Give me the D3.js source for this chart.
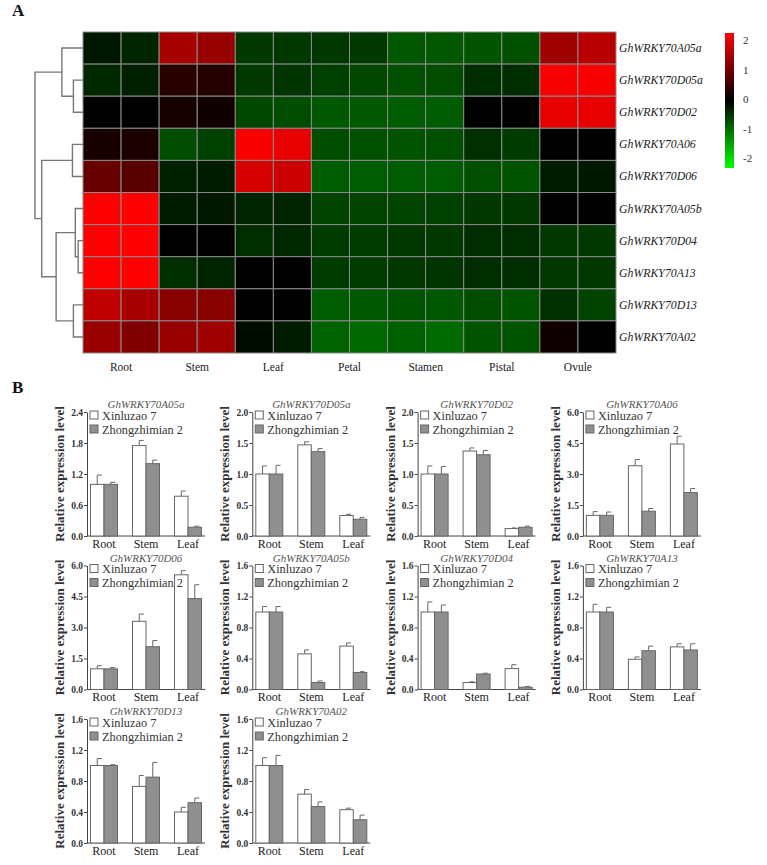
<!DOCTYPE html>
<html><head><meta charset="utf-8">
<script src="https://cdn.jsdelivr.net/npm/d3@7"></script>
<style>
body{margin:0;background:#fff;}
svg{display:block;}
</style></head>
<body>
<svg id="chart" width="767" height="865"></svg>
<script>
// ---------------- DATA ----------------
const tissues = ["Root","Stem","Leaf","Petal","Stamen","Pistal","Ovule"];
const replicates = ["r1","r2"];
const genes = ["GhWRKY70A05a","GhWRKY70D05a","GhWRKY70D02","GhWRKY70A06","GhWRKY70D06",
               "GhWRKY70A05b","GhWRKY70D04","GhWRKY70A13","GhWRKY70D13","GhWRKY70A02"];
// heatmap values (z-score), 14 columns: tissue x replicate
const heatValues = [
  [-0.19,-0.28, 1.32, 1.19,-0.44,-0.44,-0.44,-0.44,-0.69,-0.69,-0.66,-0.63, 1.25, 1.44],
  [-0.31,-0.25, 0.31, 0.28,-0.44,-0.41,-0.50,-0.56,-0.63,-0.60,-0.35,-0.35, 1.95, 1.95],
  [ 0.00, 0.00, 0.19, 0.13,-0.56,-0.60,-0.69,-0.69,-0.72,-0.72, 0.00, 0.00, 1.82, 1.82],
  [ 0.19, 0.22,-0.60,-0.50, 1.95, 1.82,-0.60,-0.63,-0.66,-0.63,-0.38,-0.47, 0.00, 0.00],
  [ 0.82, 0.69,-0.25,-0.22, 1.69, 1.60,-0.72,-0.72,-0.72,-0.72,-0.63,-0.66,-0.22,-0.19],
  [ 2.00, 2.00,-0.22,-0.19,-0.28,-0.28,-0.53,-0.53,-0.53,-0.50,-0.44,-0.44, 0.00, 0.00],
  [ 2.00, 2.00, 0.00, 0.00,-0.35,-0.31,-0.47,-0.47,-0.44,-0.44,-0.35,-0.35,-0.44,-0.44],
  [ 2.00, 2.00,-0.35,-0.28, 0.00, 0.00,-0.47,-0.47,-0.44,-0.41,-0.35,-0.35,-0.44,-0.44],
  [ 1.50, 1.32, 1.07, 1.07, 0.00, 0.00,-0.72,-0.69,-0.66,-0.69,-0.60,-0.66,-0.38,-0.53],
  [ 1.19, 1.00, 1.19, 1.25,-0.09,-0.22,-0.78,-0.82,-0.75,-0.85,-0.66,-0.66, 0.13, 0.00]
];
const colorTicks = [2,1,0,-1,-2];
// dendrogram: leaves are gene row indices, h = merge height
const dendroTree = {h:5.0, c:[
  {h:2.2, c:[0, {h:1.0, c:[1,2]}]},
  {h:4.3, c:[
    {h:1.1, c:[3,4]},
    {h:2.8, c:[
      {h:0.8, c:[5, {h:0.5, c:[6,7]}]},
      {h:1.0, c:[8,9]}
    ]}
  ]}
]};

// panel B
const barGenes = ["GhWRKY70A05a","GhWRKY70D05a","GhWRKY70D02","GhWRKY70A06","GhWRKY70D06",
                  "GhWRKY70A05b","GhWRKY70D04","GhWRKY70A13","GhWRKY70D13","GhWRKY70A02"];
const organs = ["Root","Stem","Leaf"];
const cultivars = ["Xinluzao 7","Zhongzhimian 2"];
const xinluzaoMean = [[1.0,1.75,0.77],[1.0,1.47,0.33],[1.0,1.37,0.12],[1.0,3.4,4.45],[1.0,3.3,5.55],
                      [1.0,0.46,0.56],[1.0,0.09,0.27],[1.0,0.39,0.55],[1.0,0.73,0.40],[1.0,0.63,0.43]];
const xinluzaoErr  = [[0.18,0.10,0.10],[0.13,0.05,0.02],[0.13,0.05,0.01],[0.18,0.30,0.38],[0.15,0.35,0.20],
                      [0.07,0.05,0.04],[0.13,0.01,0.05],[0.10,0.03,0.04],[0.09,0.14,0.06],[0.10,0.06,0.02]];
const zhongMean    = [[1.0,1.40,0.17],[1.0,1.36,0.27],[1.0,1.31,0.14],[1.0,1.2,2.1],[1.0,2.07,4.4],
                      [1.0,0.09,0.22],[1.0,0.20,0.03],[1.0,0.50,0.51],[1.0,0.85,0.52],[1.0,0.47,0.30]];
const zhongErr     = [[0.04,0.07,0.02],[0.14,0.05,0.03],[0.12,0.07,0.02],[0.16,0.13,0.2],[0.06,0.3,0.67],
                      [0.07,0.02,0.01],[0.09,0.01,0.01],[0.06,0.06,0.08],[0.01,0.19,0.06],[0.13,0.06,0.06]];
const yTicks = [[0,0.6,1.2,1.8,2.4],[0,0.5,1.0,1.5,2.0],[0,0.5,1.0,1.5,2.0],[0,1.5,3.0,4.5,6.0],[0,1.5,3.0,4.5,6.0],
                [0,0.4,0.8,1.2,1.6],[0,0.4,0.8,1.2,1.6],[0,0.4,0.8,1.2,1.6],[0,0.4,0.8,1.2,1.6],[0,0.4,0.8,1.2,1.6]];

// ---------------- DRAW ----------------
const svg = d3.select("#chart");
const serif = "'Liberation Serif','Times New Roman',serif";

// panel letters
svg.append("text").attr("x",12).attr("y",16).attr("font-family",serif).attr("font-weight","bold")
   .attr("font-size",17).attr("fill","#111").text("A");
svg.append("text").attr("x",12).attr("y",393).attr("font-family",serif).attr("font-weight","bold")
   .attr("font-size",17).attr("fill","#111").text("B");

// heatmap
const cols = [];
tissues.forEach(t => replicates.forEach(r => cols.push(t+"_"+r)));
const hx = d3.scaleBand().domain(cols).range([83,616]);
const hy = d3.scaleBand().domain(genes).range([32,353]);
const color = d3.scaleLinear().domain([-2,0,2]).range(["#00ff00","#000000","#ff0000"]).clamp(true);

const cells = [];
heatValues.forEach((row,i) => row.forEach((v,j) => cells.push({g:genes[i], c:cols[j], v})));
svg.append("g").selectAll("rect").data(cells).join("rect")
  .attr("x",d=>hx(d.c)).attr("y",d=>hy(d.g))
  .attr("width",hx.bandwidth()).attr("height",hy.bandwidth())
  .attr("fill",d=>color(d.v))
  .attr("stroke","#8a8a8a").attr("stroke-width",1);

// gene labels
svg.append("g").selectAll("text").data(genes).join("text")
  .attr("x",619).attr("y",d=>hy(d)+hy.bandwidth()/2+4)
  .attr("font-family",serif).attr("font-style","italic").attr("font-size",11.8)
  .attr("fill","#222").text(d=>d);

// tissue labels
const tx = d3.scaleBand().domain(tissues).range([83,616]);
svg.append("g").selectAll("text").data(tissues).join("text")
  .attr("x",d=>tx(d)+tx.bandwidth()/2).attr("y",371)
  .attr("text-anchor","middle").attr("font-family",serif).attr("font-size",11.5)
  .attr("fill","#222").text(d=>d);

// dendrogram
const dx = d3.scaleLinear().domain([0,5]).range([83,35]);
const dg = svg.append("g").attr("stroke","#777").attr("stroke-width",1.4).attr("fill","none");
function drawNode(n){
  if (typeof n === "number") return {x:dx(0), y:hy(genes[n])+hy.bandwidth()/2};
  const a = drawNode(n.c[0]), b = drawNode(n.c[1]);
  const x = dx(n.h);
  dg.append("path").attr("d",`M${a.x},${a.y}H${x}V${b.y}H${b.x}`);
  return {x, y:(a.y+b.y)/2};
}
drawNode(dendroTree);

// color bar
const defs = svg.append("defs");
const grad = defs.append("linearGradient").attr("id","cbar").attr("x1",0).attr("x2",0).attr("y1",0).attr("y2",1);
[2,0,-2].forEach((v,i)=>grad.append("stop").attr("offset",(i*50)+"%").attr("stop-color",color(v)));
const cy = d3.scaleLinear().domain([2,-2]).range([40,158]);
svg.append("rect").attr("x",725).attr("y",33).attr("width",9).attr("height",135).attr("fill","url(#cbar)");
svg.append("g").selectAll("text").data(colorTicks).join("text")
  .attr("x",743).attr("y",d=>cy(d)+4).attr("font-family",serif).attr("font-size",11)
  .attr("fill","#333").text(d=>d);

// bar panels
const fmt = d3.format(".1f");
barGenes.forEach((gname,i) => {
  const col = i%4, row = Math.floor(i/4);
  const x0 = 87 + col*165.3;
  const top = 412 + row*153.5, bot = 536 + row*153.5;
  const g = svg.append("g");
  const ticks = yTicks[i];
  const y = d3.scaleLinear().domain([0, ticks[ticks.length-1]]).range([bot, top]);
  const x = d3.scaleBand().domain(organs).range([x0-4, x0+122]);
  const xs = d3.scaleBand().domain(cultivars).range([7.5, 34.5]);

  // y axis
  const ya = g.append("g").attr("transform",`translate(${x0},0)`)
    .call(d3.axisLeft(y).tickValues(ticks).tickFormat(fmt).tickSize(3).tickSizeOuter(0).tickPadding(1));
  ya.selectAll("path,line").attr("stroke","#444");
  ya.selectAll("text").attr("font-family",serif).attr("font-weight","bold").attr("font-size",9.5).attr("fill","#333");
  // x axis
  const xa = g.append("g").attr("transform",`translate(0,${bot})`)
    .call(d3.axisBottom(x).tickSize(0).tickPadding(3));
  xa.select("path").attr("d",`M${x0},0H${x0+118}`).attr("stroke","#444");
  xa.selectAll("text").attr("font-family",serif).attr("font-size",12).attr("fill","#222");

  const recs = [];
  organs.forEach((o,k)=>{
    recs.push({o, s:cultivars[0], v:xinluzaoMean[i][k], e:xinluzaoErr[i][k]});
    recs.push({o, s:cultivars[1], v:zhongMean[i][k], e:zhongErr[i][k]});
  });
  // error bars (upper)
  g.append("g").selectAll("path").data(recs).join("path")
    .attr("d",d=>{
      const cx = x(d.o)+xs(d.s)+xs.bandwidth()/2;
      const ye = y(d.v+d.e), yv = y(d.v);
      return `M${cx},${yv}V${ye}M${cx},${ye}H${cx+4.5}`;
    })
    .attr("stroke","#666").attr("stroke-width",1).attr("fill","none");
  g.append("g").selectAll("rect").data(recs).join("rect")
    .attr("x",d=>x(d.o)+xs(d.s)).attr("y",d=>y(d.v))
    .attr("width",xs.bandwidth()).attr("height",d=>bot-y(d.v))
    .attr("fill",d=>d.s===cultivars[0]?"#ffffff":"#8f8f8f")
    .attr("stroke","#666").attr("stroke-width",1);

  // title
  g.append("text").attr("x",x0+59).attr("y",top-4).attr("text-anchor","middle")
    .attr("font-family",serif).attr("font-style","italic").attr("font-size",11)
    .attr("fill","#555").text(gname);
  // y title
  g.append("text").attr("transform",`translate(${x0-23},${(top+bot)/2}) rotate(-90)`)
    .attr("text-anchor","middle").attr("font-family",serif).attr("font-weight","bold")
    .attr("font-size",13).attr("fill","#333").text("Relative expression level");
  // legend
  const lg = g.append("g");
  cultivars.forEach((c,k)=>{
    lg.append("rect").attr("x",x0+3).attr("y",top-1+k*14).attr("width",8).attr("height",8)
      .attr("fill",k===0?"#fff":"#8f8f8f").attr("stroke","#666");
    lg.append("text").attr("x",x0+15).attr("y",top+7.5+k*14).attr("font-family",serif)
      .attr("font-size",12.3).attr("fill","#333").text(c);
  });
});
</script>
</body></html>
